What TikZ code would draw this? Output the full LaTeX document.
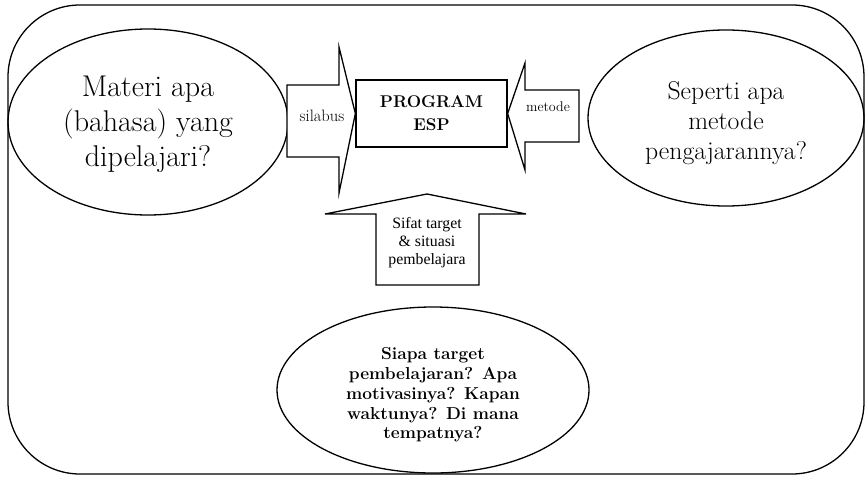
\documentclass[tikz,border=0pt]{standalone}
\usepackage{fontspec}
\newfontfamily\timesf{Liberation Serif}
\usetikzlibrary{shapes.geometric}
\begin{document}
\begin{tikzpicture}[x=1pt,y=-1pt,
  outline/.style={draw=black,line width=1.3pt,line join=miter},
  bubble/.style={outline,ellipse,inner sep=0pt},
  bigtxt/.style={align=center,inner sep=0pt},
  smalltxt/.style={align=center,inner sep=0pt,font=\timesf\fontsize{15.8}{18}\selectfont}]
\useasboundingbox (0,0) rectangle (866,476);
% outer rounded frame
\draw[outline,rounded corners=72pt] (8,5) rectangle (864,474);
% ellipses
\node[bubble,minimum width=280pt,minimum height=186pt] (mat) at (148,122) {};
\node[bubble,minimum width=276pt,minimum height=176pt] (met) at (726,118) {};
\node[bubble,minimum width=312pt,minimum height=166pt] (sia) at (433,390) {};
\node[bigtxt,font=\fontsize{30}{35}\selectfont] (matt) at ([yshift=-2pt]mat.center) {Materi apa\\(bahasa) yang\\dipelajari?};
\node[bigtxt,font=\fontsize{25.7}{30}\selectfont] (mett) at ([yshift=-5pt]met.center) {Seperti apa\\metode\\pengajarannya?};
\node[bigtxt,font=\bfseries\fontsize{17.3}{19.8}\selectfont] (siat) at ([yshift=-5pt]sia.center) {Siapa target\\pembelajaran? Apa\\motivasinya? Kapan\\waktunya? Di mana\\tempatnya?};
% program box
\node[outline,minimum width=151pt,minimum height=67pt,inner sep=0pt,align=center,
  font=\bfseries\fontsize{17}{23}\selectfont] (prog) at (431.5,113.5) {PROGRAM\\ESP};
% silabus arrow (right)
\draw[outline,fill=white] (287,85) -- (339,85) -- (339,47) -- (prog.west) -- (339,193) -- (339,157) -- (287,157) -- cycle;
\node[bigtxt,font=\fontsize{16.5}{18}\selectfont] (sil) at (322,116) {silabus};
% metode arrow (left)
\draw[outline,fill=white] (579,90) -- (525,90) -- (525,63) -- (prog.east) -- (525,170) -- (525,142) -- (579,142) -- cycle;
\node[bigtxt,font=\fontsize{14}{16}\selectfont] (mtd) at (548,107) {metode};
% sifat arrow (up)
\draw[outline,fill=white] (376,285) -- (376,214) -- (325,214) -- (427,194) -- (526,214) -- (479,214) -- (479,285) -- cycle;
\node[smalltxt] (sif) at (427,243) {Sifat target\\\& situasi\\pembelajara};
\end{tikzpicture}
\end{document}
